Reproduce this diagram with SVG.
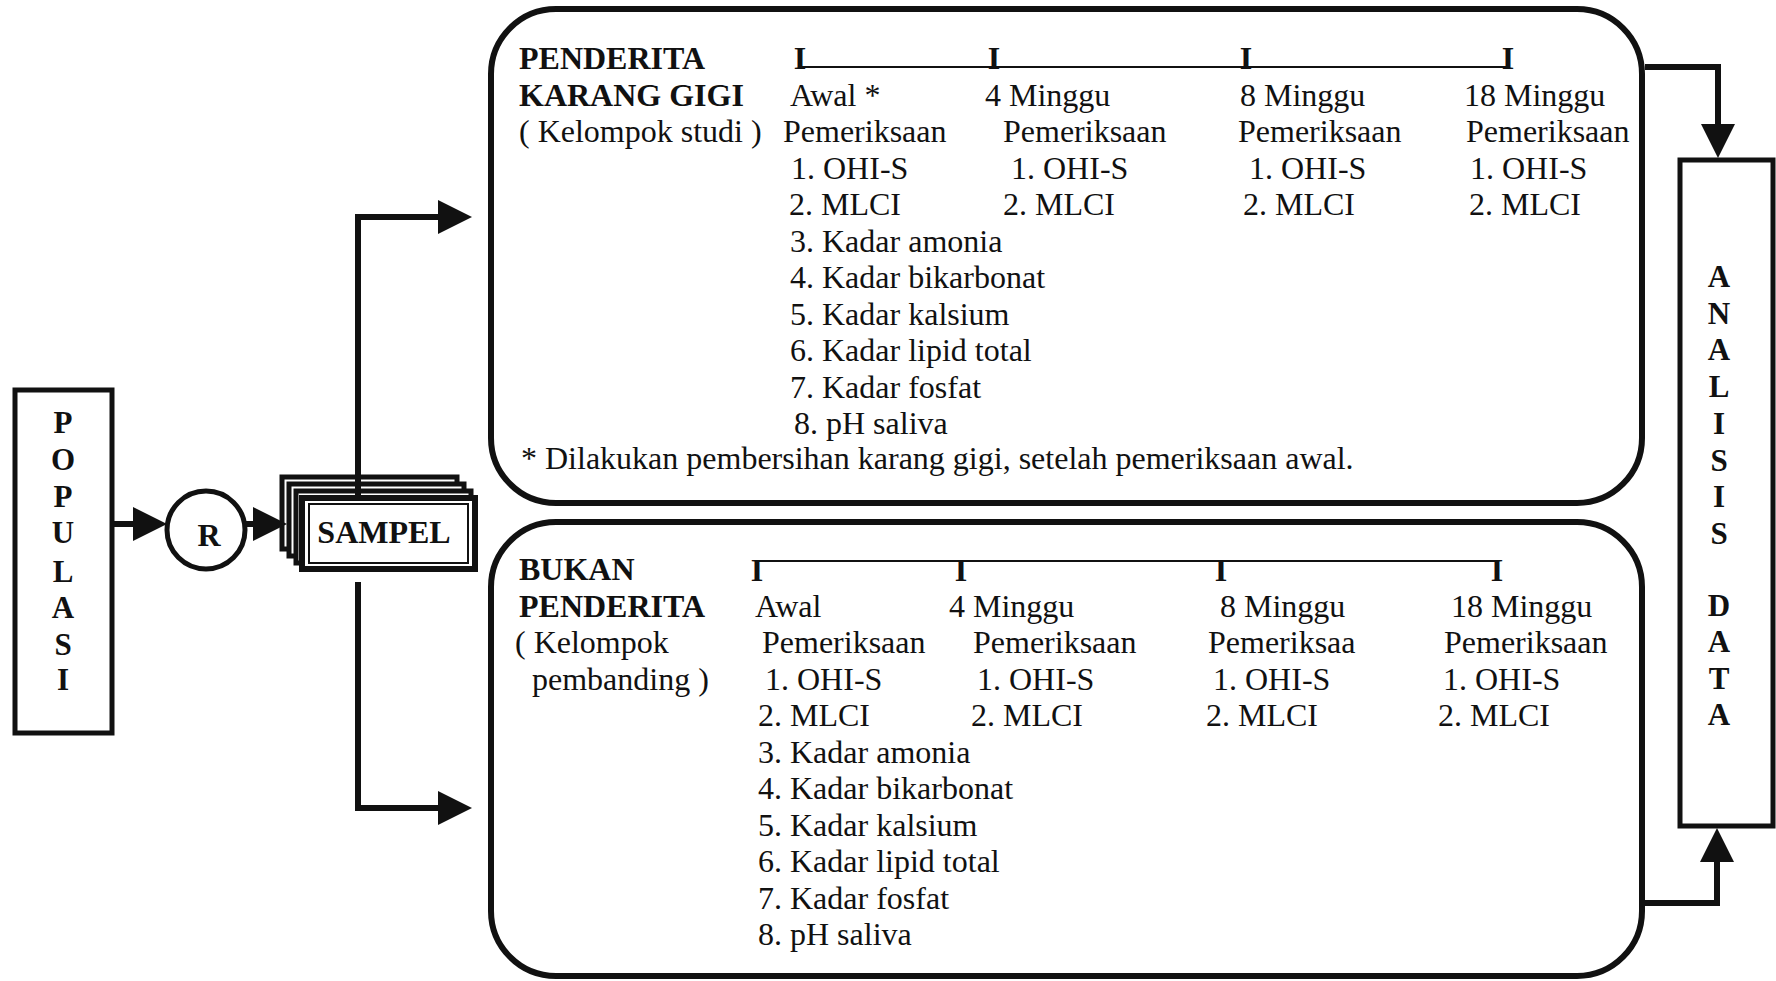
<svg xmlns="http://www.w3.org/2000/svg" width="1776" height="981" viewBox="0 0 1776 981">
<style>
  text { font-family: "Liberation Serif", "Times New Roman", serif; fill: #111; }
  .t { font-size: 32px; }
  .b { font-size: 32px; font-weight: bold; }
  .tick { font-size: 32px; font-weight: bold; text-anchor: middle; }
  .v { font-size: 31px; font-weight: bold; text-anchor: middle; }
  .box { fill: #fff; stroke: #111; stroke-width: 6; }
  .thin { fill: none; stroke: #111; stroke-width: 2; }
  .rule { stroke: #111; stroke-width: 2.2; fill: none; }
  .conn { fill: none; stroke: #111; stroke-width: 6; stroke-linejoin: miter; }
</style>
<defs>
  <marker id="ah" markerUnits="userSpaceOnUse" markerWidth="34" markerHeight="34" refX="20" refY="17" orient="auto">
    <path d="M0,0 L34,17 L0,34 z" fill="#111"/>
  </marker>
</defs>
<rect width="1776" height="981" fill="#fff"/>

<g id="populasi">
  <rect x="15" y="390" width="97" height="343" class="box" style="stroke-width:5"/>
  <text class="v" x="63" y="433">P</text>
  <text class="v" x="63" y="470">O</text>
  <text class="v" x="63" y="507">P</text>
  <text class="v" x="63" y="543">U</text>
  <text class="v" x="63" y="582">L</text>
  <text class="v" x="63" y="618">A</text>
  <text class="v" x="63" y="655">S</text>
  <text class="v" x="63" y="690">I</text>
</g>

<g id="random">
  <circle cx="206" cy="530" r="39" class="box" style="stroke-width:5"/>
  <text x="209" y="546" style="font-size:32px;font-weight:bold;text-anchor:middle">R</text>
</g>

<g id="sampel">
  <rect x="282" y="477" width="175" height="72" class="box" style="stroke-width:5"/>
  <rect x="289" y="484" width="175" height="72" class="box" style="stroke-width:5"/>
  <rect x="296" y="491" width="175" height="72" class="box" style="stroke-width:5"/>
  <rect x="302" y="498" width="173" height="71" class="box" style="stroke-width:6"/>
  <rect x="309" y="504" width="159" height="59" class="thin"/>
  <text x="384" y="543" style="font-size:32px;font-weight:bold;text-anchor:middle">SAMPEL</text>
</g>

<g id="kelompok-studi">
  <rect x="491" y="9" width="1151" height="494" rx="65" ry="65" class="box"/>
  <line x1="800" y1="67" x2="1508" y2="67" class="rule"/>
  <text class="tick" x="800" y="69">I</text>
  <text class="tick" x="994" y="69">I</text>
  <text class="tick" x="1246" y="69">I</text>
  <text class="tick" x="1508" y="69">I</text>
  <text class="b" x="519" y="69">PENDERITA</text>
  <text class="b" x="519" y="105.5">KARANG GIGI</text>
  <text class="t" x="519" y="142">( Kelompok studi )</text>

  <text class="t" x="790" y="105.5">Awal *</text>
  <text class="t" x="783" y="142">Pemeriksaan</text>
  <text class="t" x="791" y="178.5">1. OHI-S</text>
  <text class="t" x="789" y="215">2. MLCI</text>
  <text class="t" x="790" y="251.5">3. Kadar amonia</text>
  <text class="t" x="790" y="288">4. Kadar bikarbonat</text>
  <text class="t" x="790" y="324.5">5. Kadar kalsium</text>
  <text class="t" x="790" y="361">6. Kadar lipid total</text>
  <text class="t" x="790" y="397.5">7. Kadar fosfat</text>
  <text class="t" x="794" y="434">8. pH saliva</text>

  <text class="t" x="985" y="105.5">4 Minggu</text>
  <text class="t" x="1003" y="142">Pemeriksaan</text>
  <text class="t" x="1011" y="178.5">1. OHI-S</text>
  <text class="t" x="1003" y="215">2. MLCI</text>

  <text class="t" x="1240" y="105.5">8 Minggu</text>
  <text class="t" x="1238" y="142">Pemeriksaan</text>
  <text class="t" x="1249" y="178.5">1. OHI-S</text>
  <text class="t" x="1243" y="215">2. MLCI</text>

  <text class="t" x="1464" y="105.5">18 Minggu</text>
  <text class="t" x="1466" y="142">Pemeriksaan</text>
  <text class="t" x="1470" y="178.5">1. OHI-S</text>
  <text class="t" x="1469" y="215">2. MLCI</text>

  <text class="t" x="521" y="469">* Dilakukan pembersihan karang gigi, setelah pemeriksaan awal.</text>
</g>

<g id="kelompok-pembanding">
  <rect x="491" y="522" width="1151" height="454" rx="65" ry="65" class="box"/>
  <line x1="757" y1="561" x2="1497" y2="561" class="rule"/>
  <text class="tick" x="757" y="581">I</text>
  <text class="tick" x="961" y="581">I</text>
  <text class="tick" x="1221" y="581">I</text>
  <text class="tick" x="1497" y="581">I</text>
  <text class="b" x="519" y="580">BUKAN</text>
  <text class="b" x="519" y="616.5">PENDERITA</text>
  <text class="t" x="515" y="653">( Kelompok</text>
  <text class="t" x="532" y="689.5">pembanding )</text>

  <text class="t" x="755" y="616.5">Awal</text>
  <text class="t" x="762" y="653">Pemeriksaan</text>
  <text class="t" x="765" y="689.5">1. OHI-S</text>
  <text class="t" x="758" y="726">2. MLCI</text>
  <text class="t" x="758" y="762.5">3. Kadar amonia</text>
  <text class="t" x="758" y="799">4. Kadar bikarbonat</text>
  <text class="t" x="758" y="835.5">5. Kadar kalsium</text>
  <text class="t" x="758" y="872">6. Kadar lipid total</text>
  <text class="t" x="758" y="908.5">7. Kadar fosfat</text>
  <text class="t" x="758" y="945">8. pH saliva</text>

  <text class="t" x="949" y="616.5">4 Minggu</text>
  <text class="t" x="973" y="653">Pemeriksaan</text>
  <text class="t" x="977" y="689.5">1. OHI-S</text>
  <text class="t" x="971" y="726">2. MLCI</text>

  <text class="t" x="1220" y="616.5">8 Minggu</text>
  <text class="t" x="1208" y="653">Pemeriksaa</text>
  <text class="t" x="1213" y="689.5">1. OHI-S</text>
  <text class="t" x="1206" y="726">2. MLCI</text>

  <text class="t" x="1451" y="616.5">18 Minggu</text>
  <text class="t" x="1444" y="653">Pemeriksaan</text>
  <text class="t" x="1443" y="689.5">1. OHI-S</text>
  <text class="t" x="1438" y="726">2. MLCI</text>
</g>

<g id="analisis-data">
  <rect x="1680" y="160" width="93" height="666" class="box" style="stroke-width:5"/>
  <text class="v" x="1719" y="287">A</text>
  <text class="v" x="1719" y="324">N</text>
  <text class="v" x="1719" y="360">A</text>
  <text class="v" x="1719" y="397">L</text>
  <text class="v" x="1719" y="434">I</text>
  <text class="v" x="1719" y="471">S</text>
  <text class="v" x="1719" y="507">I</text>
  <text class="v" x="1719" y="544">S</text>
  <text class="v" x="1719" y="616">D</text>
  <text class="v" x="1719" y="652">A</text>
  <text class="v" x="1719" y="689">T</text>
  <text class="v" x="1719" y="725">A</text>
</g>

<g id="connectors">
  <path class="conn" d="M112,524 H153" marker-end="url(#ah)"/>
  <path class="conn" d="M245,524 H273" marker-end="url(#ah)"/>
  <path class="conn" d="M358,500 V217 H458" marker-end="url(#ah)"/>
  <path class="conn" d="M358,582 V808 H458" marker-end="url(#ah)"/>
  <path class="conn" d="M1645,67 H1718 V144" marker-end="url(#ah)"/>
  <path class="conn" d="M1645,903 H1717 V842" marker-end="url(#ah)"/>
</g>
</svg>
